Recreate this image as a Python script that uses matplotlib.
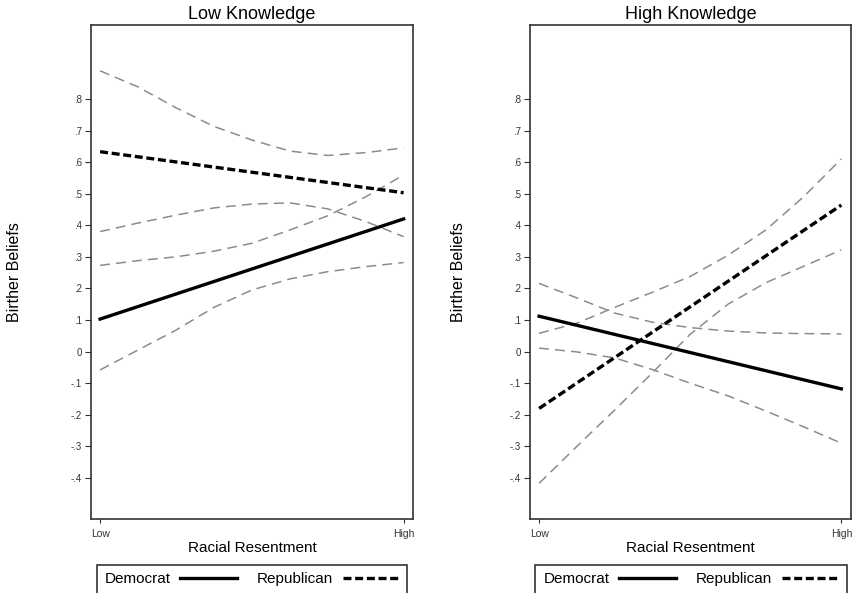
import matplotlib
matplotlib.use('Agg')
import matplotlib.pyplot as plt
from matplotlib.patches import Rectangle

plt.rcParams['font.family'] = ['Liberation Sans', 'DejaVu Sans']

# Racial resentment from Low (0) to High (1)
x_ends = [0, 1]
x_ci = [0, 0.125, 0.25, 0.375, 0.5, 0.625, 0.75, 0.875, 1]

# Low knowledge panel
low_dem = [0.103, 0.420]
low_rep = [0.633, 0.503]
low_dem_hi = [0.273, 0.288, 0.300, 0.318, 0.343, 0.385, 0.430, 0.490, 0.559]
low_dem_lo = [-0.058, 0.005, 0.068, 0.140, 0.195, 0.230, 0.253, 0.269, 0.282]
low_rep_hi = [0.889, 0.838, 0.772, 0.713, 0.670, 0.635, 0.621, 0.630, 0.645]
low_rep_lo = [0.380, 0.407, 0.432, 0.455, 0.467, 0.471, 0.452, 0.412, 0.364]

# High knowledge panel
high_dem = [0.112, -0.118]
high_rep = [-0.180, 0.464]
high_dem_hi = [0.216, 0.170, 0.122, 0.093, 0.076, 0.065, 0.059, 0.057, 0.056]
high_dem_lo = [0.011, -0.001, -0.020, -0.057, -0.100, -0.140, -0.188, -0.238, -0.290]
high_rep_hi = [0.058, 0.090, 0.140, 0.188, 0.238, 0.305, 0.385, 0.490, 0.610]
high_rep_lo = [-0.417, -0.300, -0.185, -0.067, 0.055, 0.150, 0.218, 0.270, 0.322]

yticks = [-0.4, -0.3, -0.2, -0.1, 0, 0.1, 0.2, 0.3, 0.4, 0.5, 0.6, 0.7, 0.8]
ytick_labels = ['-.4', '-.3', '-.2', '-.1', '0', '.1', '.2', '.3', '.4',
                '.5', '.6', '.7', '.8']
xtick_labels = ['Low', 'High']

frame_color = '#333333'
ci_color = '#8c8c8c'


def draw_panel(ax, title, dem, rep, dem_hi, dem_lo, rep_hi, rep_lo,
               legend_x, ylabel_x, box_left, box_width):
    # confidence bands (thin gray dashes)
    for band in (rep_hi, rep_lo, dem_hi, dem_lo):
        ax.plot(x_ci, band, color=ci_color, lw=1.1, dashes=(6.5, 4), zorder=2)

    # predicted values
    ax.plot(x_ends, dem, color='black', lw=2.4, label='Democrat', zorder=3)
    ax.plot(x_ends, rep, color='black', lw=2.4, dashes=(2.4, 1.1),
            label='Republican', zorder=3)

    ax.set_xlim(-0.03, 1.031)
    ax.set_ylim(-0.53, 1.034)
    ax.set_xticks(x_ends)
    ax.set_xticklabels(xtick_labels)
    ax.set_yticks(yticks)
    ax.set_yticklabels(ytick_labels)
    ax.tick_params(axis='y', direction='out', length=4.3, width=0.8,
                   pad=2, labelsize=7, colors=frame_color)
    ax.tick_params(axis='x', direction='out', length=3, width=0.8,
                   pad=4.5, labelsize=7.5, colors=frame_color)
    for side in ax.spines.values():
        side.set_color(frame_color)
        side.set_linewidth(1.2)

    ax.set_title(title, fontsize=13, pad=4.3)
    ax.set_xlabel('Racial Resentment', fontsize=11, va='center')
    ax.xaxis.set_label_coords(0.5, -0.0587)
    ax.set_ylabel('Birther Beliefs', fontsize=11.5, va='center')
    ax.yaxis.set_label_coords(ylabel_x, 0.5)

    # legend below the panel; its box runs off the bottom of the figure
    ax.legend(loc='upper center', bbox_to_anchor=(legend_x, 0.0438),
              bbox_transform=fig.transFigure, ncol=2, markerfirst=False,
              frameon=False, handlelength=3.7, handletextpad=0.65,
              columnspacing=1.3, borderpad=0.35, borderaxespad=0, fontsize=11)
    fig.patches.append(Rectangle((box_left, -0.05), box_width, 0.0972,
                                 transform=fig.transFigure, fill=False,
                                 edgecolor=frame_color, lw=1.2))


fig = plt.figure(figsize=(8.56, 5.93), dpi=100)
ax1 = fig.add_axes([0.1063, 0.1248, 0.3762, 0.833])
ax2 = fig.add_axes([0.6192, 0.1248, 0.3746, 0.833])

draw_panel(ax1, 'Low Knowledge', low_dem, low_rep, low_dem_hi, low_dem_lo,
           low_rep_hi, low_rep_lo, 0.2944, -0.239, 0.1133, 0.3621)
draw_panel(ax2, 'High Knowledge', high_dem, high_rep, high_dem_hi, high_dem_lo,
           high_rep_hi, high_rep_lo, 0.807, -0.2245, 0.625, 0.3641)

plt.savefig('out.png', dpi=100)
